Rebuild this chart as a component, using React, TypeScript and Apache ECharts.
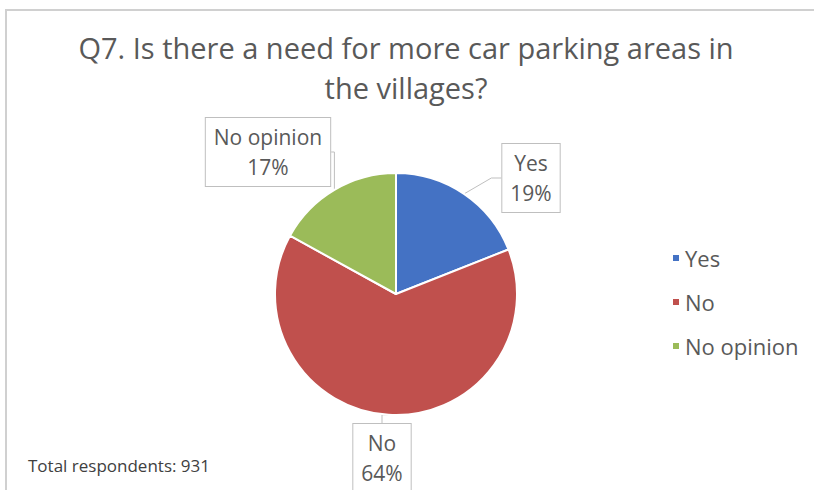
import React, { useEffect, useRef } from "react";
import * as echarts from "echarts";

const categories = ["Yes", "No", "No opinion"];
const values = [19, 64, 17];
const colors = ["#4472C4", "#C0504D", "#9BBB59"];
const titleText = "Q7. Is there a need for more car parking areas in\nthe villages?";
const footnote = "Total respondents: 931";

export default function App() {
  const ref = useRef<HTMLDivElement>(null);
  useEffect(() => {
    document.body.style.margin = "0";
    const chart = echarts.init(ref.current!, null, { renderer: "svg" });
    const labelCenters = [
      [531, 178],
      [382, 458],
      [268, 152],
    ];
    chart.setOption({
      animation: false,
      backgroundColor: "#ffffff",
      title: {
        text: titleText,
        left: 401,
        textAlign: "center",
        top: 22,
        textStyle: {
          fontFamily: "Open Sans",
          fontSize: 29,
          fontWeight: "normal",
          color: "#595959",
          lineHeight: 40,
        },
      },
      legend: {
        orient: "vertical",
        left: 666,
        top: 241,
        itemGap: 20,
        itemWidth: 8,
        itemHeight: 8,
        icon: "rect",
        data: categories,
        textStyle: { fontFamily: "Open Sans", fontSize: 22, lineHeight: 24, color: "#595959" },
      },
      graphic: [
        {
          type: "rect",
          shape: { x: 6, y: 10, width: 820, height: 490 },
          style: { fill: "none", stroke: "#d0d0d0", lineWidth: 2 },
          silent: true,
        },
        {
          type: "text",
          left: 28,
          top: 457,
          style: {
            text: footnote,
            fontFamily: "Open Sans",
            fontSize: 17,
            fill: "#404040",
          },
        },
      ],
      series: [
        {
          type: "pie",
          center: [396, 294],
          radius: 121,
          startAngle: 90,
          clockwise: true,
          data: categories.map((name, i) => ({
            name,
            value: values[i],
            itemStyle: { color: colors[i] },
          })),
          itemStyle: { borderColor: "#ffffff", borderWidth: 2 },
          label: {
            show: true,
            formatter: "{b}\n{c}%",
            fontFamily: "Open Sans",
            fontSize: 21,
            lineHeight: 30,
            color: "#595959",
            backgroundColor: "#ffffff",
            borderColor: "#bfbfbf",
            borderWidth: 1,
            padding: [4, 8, 4, 8],
            align: "center",
          },
          labelLine: {
            show: true,
            length: 10,
            length2: 10,
            lineStyle: { color: "#bfbfbf", width: 1 },
          },
          labelLayout: (params: any) => {
            const c = labelCenters[params.dataIndex];
            return {
              x: c[0],
              y: c[1],
              align: "center",
              verticalAlign: "middle",
            };
          },
        },
      ],
    });
    return () => chart.dispose();
  }, []);
  return <div ref={ref} style={{ width: 814, height: 490 }} />;
}
